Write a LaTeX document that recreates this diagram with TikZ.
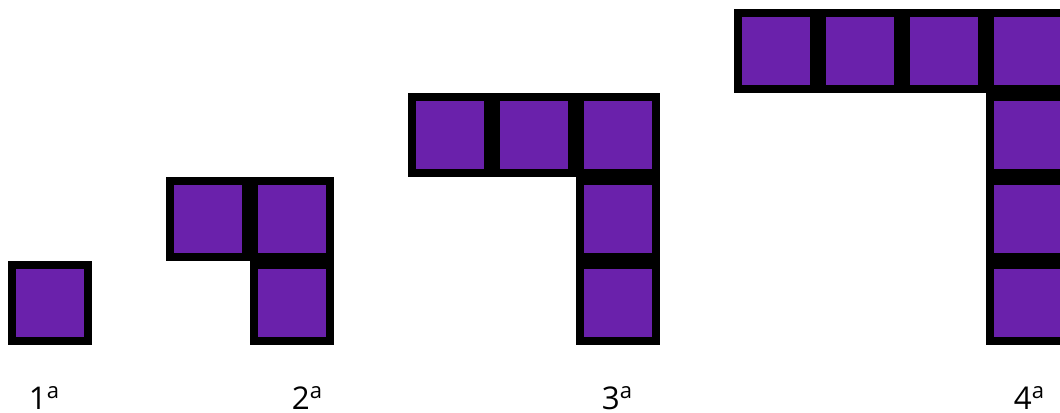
\documentclass[tikz,border=0pt]{standalone}
\usepackage{fontspec}
\setmainfont{Open Sans}
\usetikzlibrary{positioning}
\definecolor{cellpurple}{RGB}{106,33,171}
\newcommand{\ordsup}{\raisebox{8.2pt}{\fontsize{16.5}{16.5}\selectfont a}}

\begin{document}
\begin{tikzpicture}[x=0.75pt,y=0.75pt,
    cell/.style={draw=black,line width=6pt,fill=cellpurple,minimum size=57pt,inner sep=0pt,outer sep=0pt},
    every node/.style={font=\fontsize{23.5}{24}\selectfont}]
      \useasboundingbox (0,0) rectangle (1060,412);
      \clip (0,0) rectangle (1060,412);
      % 1st figure
      \node[cell] at (50,109) (f1a) {};
      % 2nd figure
      \node[cell] at (208,193) (f2a) {};
      \node[cell] at (292,193) (f2b) {};
      \node[cell] at (292,109) (f2c) {};
      % 3rd figure
      \node[cell] at (450,277) (f3a) {};
      \node[cell] at (534,277) (f3b) {};
      \node[cell] at (618,277) (f3c) {};
      \node[cell] at (618,193) (f3d) {};
      \node[cell] at (618,109) (f3e) {};
      % 4th figure
      \node[cell] at (776,361) (f4a) {};
      \node[cell] at (860,361) (f4b) {};
      \node[cell] at (944,361) (f4c) {};
      \node[cell] at (1028,361) (f4d) {};
      \node[cell] at (1028,277) (f4e) {};
      \node[cell] at (1028,193) (f4f) {};
      \node[cell] at (1028,109) (f4g) {};
      % labels
      \node[anchor=base,inner sep=0pt,text depth=0pt] at (44,3) (l1) {1\ordsup};
      \node[anchor=base,inner sep=0pt,text depth=0pt] at (307,3) (l2) {2\ordsup};
      \node[anchor=base,inner sep=0pt,text depth=0pt] at (617,3) (l3) {3\ordsup};
      \node[anchor=base,inner sep=0pt,text depth=0pt] at (1029,3) (l4) {4\ordsup};
    \end{tikzpicture}
\end{document}
